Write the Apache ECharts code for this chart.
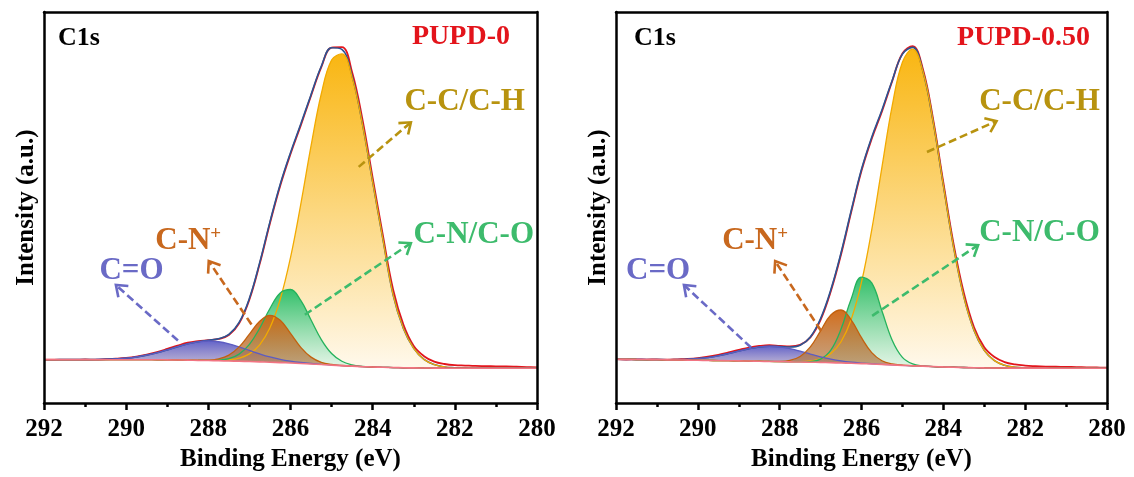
<!DOCTYPE html>
<html>
<head>
<meta charset="utf-8">
<script src="https://cdn.jsdelivr.net/npm/echarts@6/dist/echarts.min.js"></script>
<style>
  html, body { margin: 0; padding: 0; background: #fff; }
  #chart { width: 1134px; height: 477px; }
</style>
</head>
<body>
<div id="chart"></div>
<script>
// Binding-energy grid (eV), shared by both C1s spectra
const energy = [292, 291.75, 291.5, 291.25, 291, 290.75, 290.5, 290.25, 290, 289.75,
  289.5, 289.25, 289, 288.75, 288.5, 288.25, 288, 287.75, 287.5, 287.25,
  287, 286.75, 286.5, 286.25, 286, 285.75, 285.5, 285.25, 285, 284.75,
  284.5, 284.25, 284, 283.75, 283.5, 283.25, 283, 282.75, 282.5, 282.25,
  282, 281.75, 281.5, 281.25, 281, 280.75, 280.5, 280.25, 280];

// ---- PUPD-0 ----
const baseline0 = [11.10, 11.10, 11.10, 11.10, 11.10, 11.10, 11.10, 11.10, 11.10, 11.10,
  11.10, 11.08, 11.05, 11.02, 10.98, 10.93, 10.88, 10.82, 10.76, 10.70,
  10.63, 10.55, 10.46, 10.36, 10.25, 10.13, 10.00, 9.86, 9.72, 9.58,
  9.45, 9.33, 9.23, 9.15, 9.09, 9.04, 9.00, 8.97, 8.95, 8.93,
  8.92, 8.91, 8.90, 8.90, 8.90, 8.90, 8.90, 8.90, 8.90];
const envelope0 = [11.10, 11.10, 11.11, 11.11, 11.12, 11.14, 11.19, 11.30, 11.48, 11.79,
  12.26, 12.87, 13.61, 14.42, 15.16, 15.70, 16.07, 16.44, 17.55, 20.64,
  26.79, 35.91, 46.33, 55.96, 64.03, 71.34, 78.87, 86.12, 90.84, 90.42,
  83.64, 71.47, 56.56, 41.85, 27.59, 19.04, 14.00, 11.17, 9.85, 9.23,
  9.02, 8.91, 8.90, 8.90, 8.90, 8.90, 8.90, 8.90, 8.90];
const raw0 = [11.12, 11.08, 11.13, 11.10, 11.15, 11.12, 11.22, 11.35, 11.55, 11.90,
  12.40, 13.05, 13.85, 14.70, 15.45, 15.85, 16.10, 16.40, 17.40, 20.40,
  26.50, 35.60, 46.00, 55.60, 63.70, 71.00, 78.60, 85.90, 90.90, 91.00,
  84.60, 72.60, 57.60, 42.80, 28.90, 20.00, 14.60, 12.00, 10.60, 10.00,
  9.70, 9.60, 9.50, 9.45, 9.40, 9.38, 9.30, 9.20, 9.10];
// fitted components, heights above the background
const ccch0 = [0, 0, 0, 0, 0, 0, 0, 0, 0, 0,
  0, 0, 0, 0, 0, 0, 0.03, 0.10, 0.29, 0.79,
  1.95, 4.36, 8.82, 16.18, 26.95, 40.70, 55.74, 69.24, 78.00, 79.70,
  73.85, 62.06, 47.31, 32.70, 18.50, 10.00, 5.00, 2.20, 0.90, 0.30,
  0.10, 0.03, 0, 0, 0, 0, 0, 0, 0];
const cnco0 = [0, 0, 0, 0, 0, 0, 0, 0, 0, 0,
  0, 0, 0, 0, 0, 0, 0.04, 0.17, 0.61, 1.82,
  4.39, 8.60, 13.72, 17.80, 18.79, 16.13, 11.25, 6.39, 2.95, 1.11,
  0.34, 0.08, 0.02, 0, 0, 0, 0, 0, 0, 0,
  0, 0, 0, 0, 0, 0, 0, 0, 0];
const cnPlus0 = [0, 0, 0, 0, 0, 0, 0, 0, 0, 0,
  0, 0, 0, 0, 0, 0.02, 0.12, 0.48, 1.50, 3.67,
  6.99, 10.37, 11.99, 10.80, 7.57, 4.13, 1.76, 0.58, 0.15, 0.03,
  0, 0, 0, 0, 0, 0, 0, 0, 0, 0,
  0, 0, 0, 0, 0, 0, 0, 0, 0];
const co0 = [0, 0, 0.01, 0.01, 0.02, 0.04, 0.09, 0.20, 0.38, 0.69,
  1.16, 1.79, 2.56, 3.40, 4.18, 4.75, 5.00, 4.87, 4.39, 3.66,
  2.83, 2.03, 1.34, 0.82, 0.47, 0.25, 0.12, 0.05, 0.02, 0,
  0, 0, 0, 0, 0, 0, 0, 0, 0, 0,
  0, 0, 0, 0, 0, 0, 0, 0, 0];

// ---- PUPD-0.50 ----
const baseline1 = [11.20, 11.18, 11.15, 11.13, 11.10, 11.06, 11.02, 10.99, 10.95, 10.91,
  10.88, 10.84, 10.80, 10.75, 10.70, 10.65, 10.60, 10.55, 10.50, 10.45,
  10.40, 10.33, 10.25, 10.18, 10.10, 10.00, 9.90, 9.78, 9.65, 9.55,
  9.45, 9.35, 9.25, 9.17, 9.10, 9.05, 9.00, 8.98, 8.96, 8.95,
  8.95, 8.94, 8.93, 8.92, 8.92, 8.91, 8.91, 8.90, 8.90];
const envelope1 = [11.20, 11.18, 11.15, 11.14, 11.12, 11.10, 11.12, 11.20, 11.36, 11.65,
  12.09, 12.66, 13.30, 13.91, 14.36, 14.55, 14.47, 14.34, 14.79, 16.92,
  21.64, 28.98, 38.44, 49.30, 59.77, 68.00, 74.96, 82.51, 89.24, 90.96,
  84.92, 72.02, 55.72, 39.91, 27.24, 18.60, 13.49, 10.86, 9.66, 9.18,
  9.02, 8.96, 8.93, 8.92, 8.92, 8.91, 8.91, 8.90, 8.90];
const raw1 = [11.25, 11.15, 11.20, 11.12, 11.18, 11.10, 11.20, 11.30, 11.50, 11.85,
  12.35, 12.95, 13.60, 14.20, 14.60, 14.80, 14.65, 14.50, 14.90, 16.80,
  21.30, 28.60, 38.00, 48.90, 59.40, 67.60, 74.60, 82.30, 89.40, 91.30,
  85.40, 72.60, 56.40, 40.70, 28.20, 19.40, 14.30, 11.80, 10.50, 9.90,
  9.60, 9.45, 9.35, 9.30, 9.25, 9.20, 9.15, 9.10, 9.05];
const ccch1 = [0, 0, 0, 0, 0, 0, 0, 0, 0, 0,
  0, 0, 0, 0, 0, 0, 0.01, 0.03, 0.09, 0.31,
  0.90, 2.34, 5.43, 11.26, 20.81, 34.30, 50.45, 66.20, 77.50, 80.94,
  75.40, 62.67, 46.47, 30.74, 18.14, 9.55, 4.49, 1.88, 0.70, 0.23,
  0.07, 0.02, 0, 0, 0, 0, 0, 0, 0];
const cnco1 = [0, 0, 0, 0, 0, 0, 0, 0, 0, 0,
  0, 0, 0, 0, 0, 0, 0, 0, 0.02, 0.15,
  0.83, 3.20, 8.68, 16.53, 22.10, 20.73, 13.65, 6.31, 2.05, 0.47,
  0.07, 0, 0, 0, 0, 0, 0, 0, 0, 0,
  0, 0, 0, 0, 0, 0, 0, 0, 0];
const cnPlus1 = [0, 0, 0, 0, 0, 0, 0, 0, 0, 0,
  0, 0, 0, 0, 0, 0.01, 0.07, 0.37, 1.40, 3.92,
  8.07, 12.20, 13.55, 11.05, 6.62, 2.91, 0.94, 0.22, 0.04, 0,
  0, 0, 0, 0, 0, 0, 0, 0, 0, 0,
  0, 0, 0, 0, 0, 0, 0, 0, 0];
const co1 = [0, 0, 0, 0.01, 0.02, 0.04, 0.10, 0.21, 0.41, 0.74,
  1.21, 1.82, 2.50, 3.16, 3.66, 3.89, 3.79, 3.39, 2.78, 2.09,
  1.44, 0.91, 0.53, 0.28, 0.14, 0.06, 0.02, 0, 0, 0,
  0, 0, 0, 0, 0, 0, 0, 0, 0, 0,
  0, 0, 0, 0, 0, 0, 0, 0, 0];

const sampleNames = ['PUPD-0', 'PUPD-0.50'];
const componentNames = { ccch: 'C-C/C-H', cnco: 'C-N/C-O', cnPlus: 'C-N+', co: 'C=O' };

const FONT = '"Liberation Serif", "Times New Roman", Times, serif';
const BLACK = '#000';

const STYLE = {
  ccch:   { line: '#F2AA00', top: '#F9B612', bottom: '#FFF8EA', text: '#B8930F' },
  cnco:   { line: '#25B25C', top: 'rgba(44,190,104,0.97)', bottom: 'rgba(214,242,224,0.85)', text: '#3DBB6C' },
  co:     { line: '#5C5CC2', top: 'rgba(92,92,198,0.95)', bottom: 'rgba(150,140,196,0.75)', text: '#6A6AC6' },
  cnPlus: { line: '#C2610E', top: 'rgba(208,102,16,0.95)', bottom: 'rgba(176,122,72,0.7)', text: '#C8681E' }
};
const DRAW_ORDER = ['ccch', 'cnco', 'co', 'cnPlus'];

const panels = [
  {
    baseline: baseline0, envelope: envelope0, raw: raw0,
    peaks: { ccch: ccch0, cnco: cnco0, cnPlus: cnPlus0, co: co0 },
    grid: { left: 44, top: 12, width: 493, height: 394.5 },
    notes: { title: [281.85, 93.7], c1s: [291.66, 93.4],
      ccch: [281.76, 76.9], cnco: [281.54, 42.9], cnPlus: [288.49, 41.4], co: [289.87, 33.7] },
    arrows: { co: [[288.74, 16.0], [290.25, 30.2]], cnPlus: [[286.95, 20.1], [287.99, 36.3]],
      ccch: [[284.34, 60.4], [283.07, 71.8]], cnco: [[285.65, 22.6], [283.07, 40.9]] }
  },
  {
    baseline: baseline1, envelope: envelope1, raw: raw1,
    peaks: { ccch: ccch1, cnco: cnco1, cnPlus: cnPlus1, co: co1 },
    grid: { left: 616, top: 12, width: 491, height: 394 },
    notes: { title: [282.04, 93.4], c1s: [291.56, 93.4],
      ccch: [281.65, 76.9], cnco: [281.65, 43.4], cnPlus: [288.60, 41.4], co: [290.97, 33.8] },
    arrows: { co: [[288.70, 14.2], [290.34, 30.2]], cnPlus: [[286.99, 18.5], [288.11, 36.3]],
      ccch: [[284.40, 64.2], [282.70, 72.1]], cnco: [[285.74, 22.3], [283.15, 40.4]] }
  }
];

function pairs(values) { return values.map((v, i) => [energy[i], v]); }

const textBase = { fontFamily: FONT, fontWeight: 'bold' };
const axisLineStyle = { color: BLACK, width: 2.5 };

const grids = [], xAxes = [], yAxes = [], series = [];
const rawIndex = [];

panels.forEach((pn, p) => {
  grids.push(pn.grid);
  xAxes.push({
    gridIndex: p, type: 'value', position: 'bottom', min: 280, max: 292, interval: 2, inverse: true, z: 5,
    axisLine: { onZero: false, lineStyle: axisLineStyle },
    axisTick: { show: true, length: 7, lineStyle: axisLineStyle },
    minorTick: { show: true, splitNumber: 2, length: 4, lineStyle: axisLineStyle },
    splitLine: { show: false }, minorSplitLine: { show: false },
    axisLabel: Object.assign({ color: BLACK, fontSize: 25, margin: 14 }, textBase),
    name: 'Binding Energy (eV)', nameLocation: 'middle', nameGap: 41,
    nameTextStyle: Object.assign({ color: BLACK, fontSize: 25 }, textBase)
  });
  xAxes.push({
    gridIndex: p, type: 'value', position: 'top', min: 280, max: 292, inverse: true, z: 5,
    axisLine: { onZero: false, lineStyle: axisLineStyle },
    axisTick: { show: false }, axisLabel: { show: false }, splitLine: { show: false }
  });
  yAxes.push({
    gridIndex: p, type: 'value', position: 'left', min: 0, max: 100, z: 5,
    axisLine: { show: true, onZero: false, lineStyle: axisLineStyle },
    axisTick: { show: false }, axisLabel: { show: false }, splitLine: { show: false },
    name: 'Intensity (a.u.)', nameLocation: 'middle', nameGap: 5,
    nameTextStyle: Object.assign({ color: BLACK, fontSize: 25 }, textBase)
  });
  yAxes.push({
    gridIndex: p, type: 'value', position: 'right', min: 0, max: 100, z: 5,
    axisLine: { show: true, onZero: false, lineStyle: axisLineStyle },
    axisTick: { show: false }, axisLabel: { show: false }, splitLine: { show: false }
  });

  const ax = { xAxisIndex: 2 * p, yAxisIndex: 2 * p };
  const common = { type: 'line', symbol: 'none', smooth: 0.4, silent: true };

  // measured spectrum (drawn first; the fit lies over it where they coincide)
  const n = pn.notes;
  const note = (coord, text, color, size, extra) => ({
    coord: coord, symbolSize: 0,
    label: Object.assign({ show: true, position: 'inside', formatter: text, color: color, fontSize: size }, textBase, extra || {})
  });
  const cnPlusRich = {
    m: Object.assign({ color: STYLE.cnPlus.text, fontSize: 31, lineHeight: 34 }, textBase),
    s: Object.assign({ color: STYLE.cnPlus.text, fontSize: 19, lineHeight: 22, verticalAlign: 'top' }, textBase)
  };
  rawIndex.push(series.length);
  series.push(Object.assign({}, common, ax, {
    name: sampleNames[p], data: pairs(pn.raw),
    lineStyle: { color: '#E3151C', width: 1.8 }, z: 2,
    markPoint: {
      symbol: 'circle', symbolSize: 0, silent: true, animation: false, z: 6,
      itemStyle: { color: 'rgba(0,0,0,0)' },
      data: [
        note(n.title, sampleNames[p], '#E3141B', 28),
        note(n.c1s, 'C1s', BLACK, 26, { position: 'right', distance: 0 }),
        note(n.ccch, componentNames.ccch, STYLE.ccch.text, 31),
        note(n.cnco, componentNames.cnco, STYLE.cnco.text, 31),
        note(n.co, componentNames.co, STYLE.co.text, 31),
        note(n.cnPlus, '{m|C-N}{s|+}', STYLE.cnPlus.text, 31, { rich: cnPlusRich })
      ]
    }
  }));

  // fitted envelope (sum of components + background)
  series.push(Object.assign({}, common, ax, {
    name: sampleNames[p] + ' fit', data: pairs(pn.envelope),
    lineStyle: { color: '#2A5594', width: 1.6 }, z: 2
  }));

  // component peaks, filled with a fading gradient
  DRAW_ORDER.forEach(key => {
    const h = pn.peaks[key];
    const top = h.map((v, i) => pn.baseline[i] + v);
    let k = 0;
    h.forEach((v, i) => { if (v > h[k]) k = i; });
    const frac = Math.min(0.98, h[k] / top[k]);
    const st = STYLE[key];
    series.push(Object.assign({}, common, ax, {
      name: componentNames[key], data: pairs(top),
      lineStyle: { color: st.line, width: 1.3 },
      areaStyle: {
        origin: 'start', opacity: 1,
        color: new echarts.graphic.LinearGradient(0, 0, 0, 1, [
          { offset: 0, color: st.top }, { offset: frac, color: st.bottom }, { offset: 1, color: st.bottom }
        ])
      },
      z: 2
    }));
  });

  // clear everything under the background line
  series.push(Object.assign({}, common, ax, {
    name: 'mask', data: pairs(pn.baseline),
    lineStyle: { opacity: 0, width: 0 }, areaStyle: { origin: 'start', color: '#fff', opacity: 1 }, z: 2
  }));
  // Shirley background
  series.push(Object.assign({}, common, ax, {
    name: 'background', data: pairs(pn.baseline),
    lineStyle: { color: '#F27482', width: 1.6 }, z: 2
  }));
});

const chart = echarts.init(document.getElementById('chart'), null, { renderer: 'canvas' });
chart.setOption({
  animation: false,
  backgroundColor: '#fff',
  grid: grids,
  xAxis: xAxes,
  yAxis: yAxes,
  series: series
});

// dashed pointer arrows from each peak to its label
const graphics = [];
panels.forEach((pn, p) => {
  Object.keys(pn.arrows).forEach(key => {
    const [from, to] = pn.arrows[key];
    const a = chart.convertToPixel({ seriesIndex: rawIndex[p] }, from);
    const b = chart.convertToPixel({ seriesIndex: rawIndex[p] }, to);
    const dx = b[0] - a[0], dy = b[1] - a[1];
    const len = Math.hypot(dx, dy);
    const ux = dx / len, uy = dy / len;
    const headLen = 10, headHalf = 7.5;
    const color = STYLE[key].text;
    graphics.push({
      type: 'line', silent: true, z: 10,
      shape: { x1: a[0], y1: a[1], x2: b[0] - ux * 1.5, y2: b[1] - uy * 1.5 },
      style: { stroke: color, lineWidth: 2.6, lineDash: [8, 4] }
    });
    graphics.push({
      type: 'polyline', silent: true, z: 10,
      shape: { points: [
        [b[0] - ux * headLen - uy * headHalf, b[1] - uy * headLen + ux * headHalf],
        [b[0], b[1]],
        [b[0] - ux * headLen + uy * headHalf, b[1] - uy * headLen - ux * headHalf]
      ] },
      style: { stroke: color, lineWidth: 2.6, fill: null, lineJoin: 'miter' }
    });
  });
});
chart.setOption({ graphic: graphics });
</script>
</body>
</html>
